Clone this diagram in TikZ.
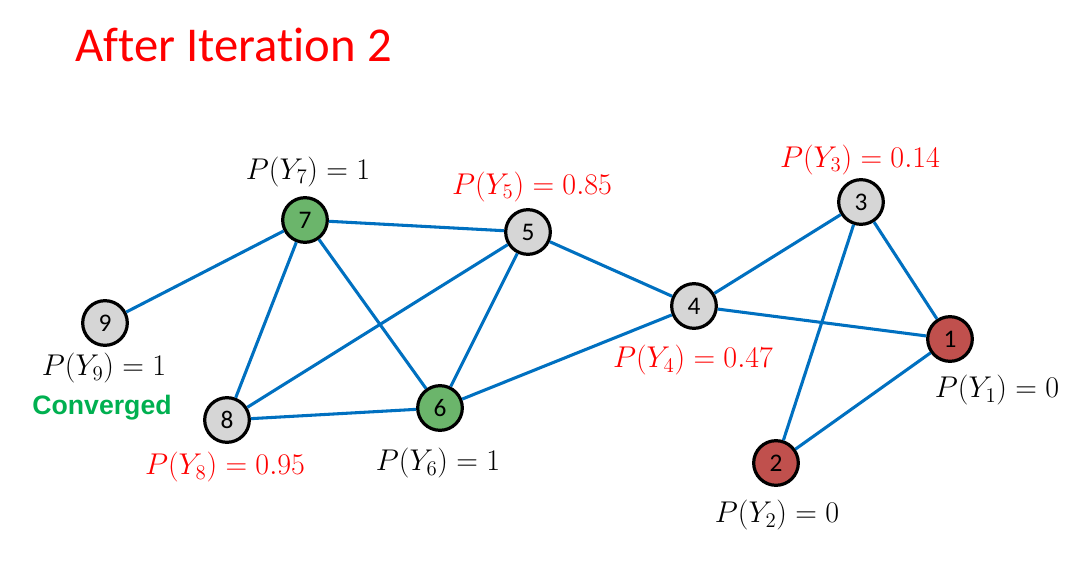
\documentclass[tikz,border=0pt]{standalone}
\usepackage{graphicx}
\usepackage{fontspec}
\setmainfont[Ligatures={NoCommon}]{Carlito}
\newfontfamily\arialbold{Liberation Sans}
\definecolor{edgeblue}{HTML}{0070C0}
\definecolor{nodegreen}{HTML}{6BB56B}
\definecolor{nodered}{HTML}{C0504D}
\definecolor{nodegray}{HTML}{D6D6D6}
\definecolor{convgreen}{HTML}{00B050}
\newcommand{\mlab}[1]{\scalebox{1.085}{$#1$}}
\tikzset{
  vert/.style={circle,draw=black,line width=2.4pt,minimum size=33.5pt,inner sep=0pt,font=\fontsize{19}{21}\selectfont},
  gvert/.style={vert,fill=nodegreen},
  rvert/.style={vert,fill=nodered},
  nvert/.style={vert,fill=nodegray},
  edge/.style={edgeblue,line width=2.3pt},
  lab/.style={font=\fontsize{20.74}{24}\selectfont,inner sep=0pt},
  rlab/.style={lab,text=red},
}
\begin{document}
\begin{tikzpicture}[x=0.75pt,y=-0.75pt]
\useasboundingbox (0,0) rectangle (1083,574);
\node[anchor=west,text=red,font=\fontsize{36.5}{40}\selectfont,inner sep=0pt] (title) at (75,45) {After Iteration 2};
\node[gvert] (n7) at (305,220) {7};
\node[nvert] (n5) at (528,232) {5};
\node[nvert] (n9) at (105,323) {9};
\node[nvert] (n8) at (227,420) {8};
\node[gvert] (n6) at (440,408) {6};
\node[nvert] (n4) at (694,306) {4};
\node[nvert] (n3) at (861,202) {3};
\node[rvert] (n1) at (950,339) {1};
\node[rvert] (n2) at (776,463) {2};
\draw[edge] (n7) -- (n5);
\draw[edge] (n7) -- (n9);
\draw[edge] (n7) -- (n8);
\draw[edge] (n7) -- (n6);
\draw[edge] (n5) -- (n8);
\draw[edge] (n5) -- (n6);
\draw[edge] (n5) -- (n4);
\draw[edge] (n8) -- (n6);
\draw[edge] (n6) -- (n4);
\draw[edge] (n4) -- (n3);
\draw[edge] (n4) -- (n1);
\draw[edge] (n3) -- (n1);
\draw[edge] (n3) -- (n2);
\draw[edge] (n2) -- (n1);
\node[lab] (l7) at (308,172) {\mlab{P(Y_7)=1}};
\node[rlab] (l5) at (532,187) {\mlab{P(Y_5)=0.85}};
\node[rlab] (l3) at (860,160) {\mlab{P(Y_3)=0.14}};
\node[lab] (l9) at (104,368) {\mlab{P(Y_9)=1}};
\node[text=convgreen,font=\arialbold\bfseries\fontsize{20}{22}\selectfont,inner sep=0pt] (conv) at (102,408) {Converged};
\node[rlab] (l4) at (693,360) {\mlab{P(Y_4)=0.47}};
\node[lab] (l1) at (997,390) {\mlab{P(Y_1)=0}};
\node[rlab] (l8) at (225,467) {\mlab{P(Y_8)=0.95}};
\node[lab] (l6) at (438,463) {\mlab{P(Y_6)=1}};
\node[lab] (l2) at (777,515) {\mlab{P(Y_2)=0}};
\end{tikzpicture}
\end{document}
